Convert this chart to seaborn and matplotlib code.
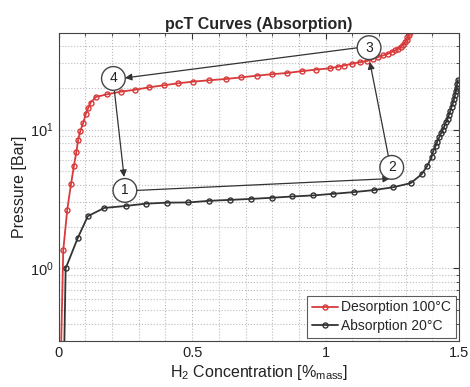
import numpy as np
import pandas as pd
import matplotlib
matplotlib.use("Agg")
import matplotlib.pyplot as plt
import seaborn as sns
from matplotlib.ticker import MultipleLocator, LogLocator, NullFormatter, FixedLocator

# ---- data ----
des_x = [0.004, 0.017, 0.032, 0.046, 0.057, 0.066, 0.073, 0.081, 0.092, 0.101, 0.111,
         0.120, 0.139, 0.182, 0.233, 0.286, 0.339, 0.394, 0.448, 0.504, 0.563, 0.627,
         0.682, 0.742, 0.798, 0.854, 0.910, 0.964, 1.017, 1.045, 1.069, 1.098, 1.129,
         1.154, 1.179, 1.197, 1.216, 1.235, 1.248, 1.260, 1.272, 1.281, 1.291, 1.297,
         1.304, 1.307, 1.311, 1.316]
des_p = [0.1, 1.35, 2.65, 4.04, 5.48, 6.9, 8.45, 9.8, 11.2, 12.9, 14.4,
         15.7, 17.2, 18.0, 18.8, 19.4, 20.2, 20.9, 21.6, 22.2, 22.7, 23.2,
         23.8, 24.5, 25.1, 25.6, 26.4, 27.1, 27.7, 28.4, 29.0, 29.8, 30.7,
         31.2, 32.4, 33.4, 34.3, 35.3, 36.3, 37.3, 38.4, 39.5, 41.0, 42.5,
         44.2, 46.2, 48.0, 50.2]

abs_x = [0.017, 0.026, 0.071, 0.109, 0.171, 0.251, 0.326, 0.407, 0.486, 0.563, 0.642,
         0.719, 0.798, 0.875, 0.954, 1.029, 1.106, 1.181, 1.254, 1.319, 1.360, 1.381,
         1.397, 1.403, 1.412, 1.418, 1.426, 1.432, 1.439, 1.445, 1.451, 1.457, 1.462,
         1.467, 1.472, 1.477, 1.481, 1.485, 1.488, 1.491, 1.493, 1.496]
abs_p = [0.1, 1.0, 1.65, 2.38, 2.73, 2.82, 2.93, 2.98, 2.99, 3.07, 3.12,
         3.17, 3.23, 3.30, 3.36, 3.45, 3.55, 3.67, 3.85, 4.12, 4.77, 5.49,
         6.32, 7.0, 7.6, 8.2, 8.8, 9.4, 10.0, 10.6, 11.3, 12.0, 12.8,
         13.6, 14.6, 15.5, 16.6, 17.7, 18.9, 20.1, 21.4, 22.8]

labels = ["Desorption 100°C", "Absorption 20°C"]
colors = ["#d93a3a", "#333333"]

# state circles (label, x, p)
state_lbl = ["1", "2", "3", "4"]
state_x = [0.248, 1.248, 1.163, 0.205]
state_p = [3.65, 5.35, 39.0, 23.4]

# arrows: (x_start, p_start, x_end, p_end)
arr_x0 = [1.123, 0.208, 0.292, 1.236]
arr_p0 = [39.0, 19.6, 3.65, 6.36]
arr_x1 = [0.248, 0.245, 1.241, 1.166]
arr_p1 = [23.6, 4.56, 4.44, 30.7]

# ---- style ----
sns.set_style("white")
plt.rcParams['font.family'] = ['Liberation Sans', 'DejaVu Sans']
plt.rcParams['mathtext.fontset'] = 'custom'
plt.rcParams['mathtext.rm'] = 'Liberation Sans'
plt.rcParams['mathtext.it'] = 'Liberation Sans:italic'
plt.rcParams['mathtext.default'] = 'regular'

fig = plt.figure(figsize=(4.70, 3.87), dpi=100)
ax = fig.add_axes([0.1249, 0.1189, 0.8517, 0.7966])

df_d = pd.DataFrame({"x": des_x, "p": des_p})
df_a = pd.DataFrame({"x": abs_x, "p": abs_p})

sns.lineplot(data=df_d, x="x", y="p", ax=ax, sort=False, estimator=None,
             color=colors[0], marker="o", markersize=3.6, markerfacecolor="none",
             markeredgecolor=colors[0], markeredgewidth=1.0, linewidth=1.3,
             label=labels[0])
sns.lineplot(data=df_a, x="x", y="p", ax=ax, sort=False, estimator=None,
             color=colors[1], marker="o", markersize=3.6, markerfacecolor="none",
             markeredgecolor=colors[1], markeredgewidth=1.0, linewidth=1.3,
             label=labels[1])

ax.set_yscale("log")
ax.set_xlim(0, 1.5)
ax.set_ylim(0.3, 50)

ax.xaxis.set_major_locator(FixedLocator([0, 0.5, 1, 1.5]))
ax.set_xticklabels(["0", "0.5", "1", "1.5"])
ax.xaxis.set_minor_locator(MultipleLocator(0.1))
ax.yaxis.set_major_locator(LogLocator(base=10))
ax.yaxis.set_minor_locator(LogLocator(base=10, subs=np.arange(2, 10)))
ax.yaxis.set_minor_formatter(NullFormatter())

ax.grid(True, which="both", linestyle=":", color="#bbbbbb", linewidth=0.8)
ax.tick_params(which="both", direction="in", top=True, right=True,
               colors="#333333", labelcolor="#222222", labelsize=10.5)
ax.tick_params(which="major", length=4)
ax.tick_params(which="minor", length=2)
for s in ax.spines.values():
    s.set_color("#444444")
    s.set_linewidth(0.8)

ax.set_title("pcT Curves (Absorption)", fontsize=11.5, fontweight="bold", pad=3)
ax.set_xlabel("H$_2$ Concentration [%$_{mass}$]", fontsize=11.5, color="#222222", labelpad=2)
ax.set_ylabel("Pressure [Bar]", fontsize=11.5, color="#222222", labelpad=2)

for x0, p0, x1, p1 in zip(arr_x0, arr_p0, arr_x1, arr_p1):
    ax.annotate("", xy=(x1, p1), xytext=(x0, p0),
                arrowprops=dict(arrowstyle="-|>", color="#333333", lw=0.9,
                                mutation_scale=10, shrinkA=0, shrinkB=0))

for lb, x, p in zip(state_lbl, state_x, state_p):
    ax.text(x, p, lb, ha="center", va="center", fontsize=10, color="#222222",
            bbox=dict(boxstyle="circle,pad=0.35", fc="white", ec="#444444", lw=1.0))

leg = ax.legend(loc="lower right", fontsize=10, frameon=True, fancybox=False,
                edgecolor="#333333", handlelength=1.9, handletextpad=0.2,
                borderpad=0.35, labelspacing=0.3, borderaxespad=0.25)
leg.get_frame().set_linewidth(0.8)

fig.savefig("out.png", dpi=100)
